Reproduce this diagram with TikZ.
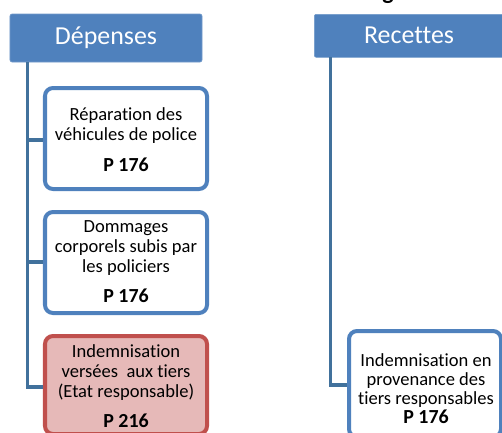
\documentclass[tikz,border=0pt]{standalone}
\usepackage{fontspec}
\setmainfont{Carlito}[Ligatures=NoCommon]
\definecolor{hdrblue}{HTML}{4F81BD}
\definecolor{linkblue}{HTML}{41719C}
\definecolor{redborder}{HTML}{C0504D}
\definecolor{redfill}{HTML}{E6B9B8}
\newcommand{\pnumfont}{\fontsize{20}{20}\bfseries\selectfont}
\tikzset{
  header/.style={fill=hdrblue, draw=hdrblue!80!white, line width=0.6bp, rounded corners=2bp, text=white, font=\fontsize{26}{30}\selectfont, inner sep=0pt},
  itembox/.style={draw=hdrblue, fill=white, line width=4bp, rounded corners=8bp, inner sep=0pt},
  redbox/.style={draw=redborder, fill=redfill, line width=4bp, rounded corners=8bp, inner sep=0pt},
  itemtext/.style={align=center, font=\fontsize{18.6}{20}\selectfont, inner sep=0pt},
  link/.style={draw=linkblue, line width=3.5bp}
}
\begin{document}
\begin{tikzpicture}[x=1bp, y=-1bp]
\useasboundingbox (0,0) rectangle (502,432);
% partial title letter cut off at the top
\node[anchor=base, font=\fontsize{24}{24}\bfseries\selectfont, inner sep=0pt] (ttl) at (388,-1) {g};
% headers
\node[header, minimum width=192bp, minimum height=48bp] (dep) at (106,38) {Dépenses};
\node[header, minimum width=192bp, minimum height=43bp, anchor=north west] (rec) at (314,14) {};
\node[font=\fontsize{26}{30}\selectfont, text=white, inner sep=0pt] (rect) at (409,35) {Recettes};
% boxes
\node[itembox, minimum width=162bp, minimum height=101bp] (b1) at (126,138.5) {};
\node[itembox, minimum width=162bp, minimum height=101bp] (b2) at (126,262.5) {};
\node[redbox, minimum width=162bp, minimum height=98bp] (b3) at (126,385) {};
\node[itembox, minimum width=152bp, minimum height=106bp] (b4) at (425,384) {};
% texts
\node[itemtext] (t1) at (126,139.5) {Réparation des\\véhicules de police\\[11bp]{\pnumfont P 176}};
\node[itemtext] (t2) at (126,262) {Dommages\\corporels subis par\\les policiers\\[10bp]{\pnumfont P 176}};
\node[itemtext] (t3) at (126,386.5) {Indemnisation\\versées\ \ aux tiers\\(Etat responsable)\\[10bp]{\pnumfont P 216}};
\node[itemtext, font=\fontsize{18.6}{19}\selectfont] (t4) at (426,389) {Indemnisation en\\provenance des\\tiers responsables\\{\pnumfont P 176}};
% connectors
\coordinate (lt) at (27.5,62);
\coordinate (lb) at (27.5,387);
\draw[link] (lt) -- (lb) -- (b3.west |- lb);
\draw[link] (27.5,140) -- (b1.west |- 0,140);
\draw[link] (27.5,262) -- (b2.west |- 0,262);
\coordinate (rt) at (330.5,57);
\coordinate (rb) at (330.5,385);
\draw[link] (rt) -- (rb) -- (b4.west |- rb);
\end{tikzpicture}
\end{document}
